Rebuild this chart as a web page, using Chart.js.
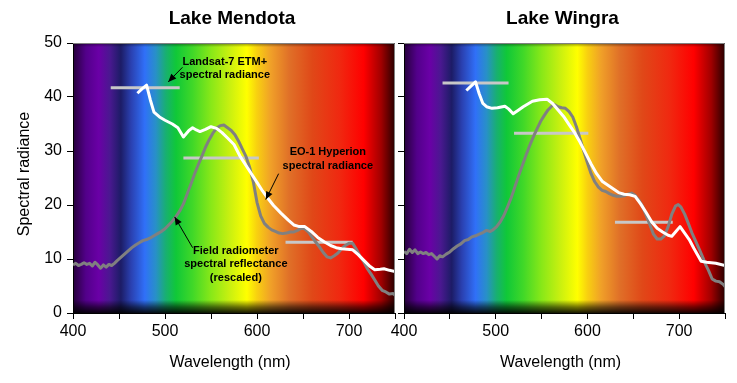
<!DOCTYPE html>
<html><head><meta charset="utf-8">
<script src="https://cdn.jsdelivr.net/npm/chart.js@4"></script>
<style>
html,body{margin:0;padding:0;background:#fff;}
#wrap{position:relative;width:737px;height:383px;overflow:hidden;}
canvas{position:absolute;top:0;}
#c1{left:0;} #c2{left:380px;}
</style></head><body>
<div id="wrap"><canvas id="c2" width="357" height="383"></canvas><canvas id="c1" width="400" height="383"></canvas></div>
<script>
// ---------- DATA ----------
const lakeNames = ['Lake Mendota', 'Lake Wingra'];
const wavelengthTicks = [400, 450, 500, 550, 600, 650, 700, 750];
const wavelengthLabels = ['400', '', '500', '', '600', '', '700', ''];
const radianceTicks = [0, 10, 20, 30, 40, 50];

// Lake Mendota - field radiometer spectral reflectance (rescaled)
const mendotaFieldNm  = [400,403,406,409,412,415,418,421,424,427,430,433,436,439,442,445,448,452,456,460,464,468,472,476,480,484,488,492,496,500,504,508,512,516,520,524,528,532,536,540,544,548,552,556,560,564,568,572,576,580,584,588,592,596,600,604,608,612,616,620,624,628,632,636,640,644,648,652,656,660,664,668,672,676,680,684,688,692,696,700,704,708,712,716,720,724,728,732,736,740,744,748,750];
const mendotaFieldVal = [8.9,9.2,8.8,9.0,9.3,9.0,9.2,8.7,9.4,8.9,8.3,8.9,8.5,9.0,8.8,9.2,9.7,10.3,10.9,11.5,12.1,12.6,13.0,13.4,13.6,13.9,14.3,14.7,15.1,15.6,16.3,17.0,17.9,18.9,20.2,22.0,23.8,25.7,27.4,29.0,30.7,32.1,33.3,34.2,34.7,34.8,34.3,33.8,33.0,31.8,30.4,29.0,27.0,24.3,20.5,18.0,16.6,15.9,15.4,15.1,14.8,14.7,14.8,15.0,15.0,15.3,15.7,15.6,15.0,14.0,13.1,12.2,11.2,10.4,10.2,10.6,11.1,11.9,12.5,12.9,12.9,11.8,10.5,9.5,8.2,7.2,6.1,5.0,4.2,3.9,3.5,3.6,3.3];
// Lake Mendota - EO-1 Hyperion spectral radiance
const mendotaHyperionNm  = [470,475,480,484,488,494,500,508,514,520,526,530,534,538,544,550,556,562,568,575,582,590,600,606,612,618,626,634,640,646,652,659,666,673,680,686,692,698,704,710,717,723,728,734,738,744,750];
const mendotaHyperionVal = [40.7,41.5,42.2,39.5,37.2,36.3,35.7,35.0,34.3,32.6,33.8,34.3,33.9,33.6,34.0,34.5,34.2,33.4,32.4,31.2,28.9,26.8,24.2,22.6,21.2,19.9,18.5,17.2,16.3,16.0,16.0,15.1,14.0,13.2,12.5,12.1,11.9,11.8,11.7,10.8,9.6,8.6,8.0,8.1,8.2,7.9,7.7];
// Lake Mendota - Landsat-7 ETM+ band radiance (band start nm, end nm, value)
const mendotaLandsatStart = [441, 520, 631];
const mendotaLandsatEnd   = [516, 602, 704];
const mendotaLandsatVal   = [41.7, 28.7, 13.1];

// Lake Wingra - field radiometer spectral reflectance (rescaled)
const wingraFieldNm  = [400,403,406,409,412,415,418,421,424,427,430,433,436,439,442,446,450,454,458,462,466,470,474,478,482,486,490,494,497,501,505,509,513,517,521,525,529,533,537,541,545,549,553,557,561,564,568,572,576,580,584,588,592,596,600,604,608,612,616,620,624,628,632,636,640,644,648,652,656,660,664,668,672,676,680,684,688,692,696,699,702,706,710,714,718,722,726,729,732,736,740,744,748,750];
const wingraFieldVal = [11.4,11.0,11.8,11.2,11.7,11.0,11.3,11.0,11.2,10.8,11.0,10.5,10.0,10.6,10.4,10.9,11.3,11.9,12.4,12.8,13.4,13.6,14.1,14.3,14.6,14.9,15.3,15.1,15.4,16.0,16.9,18.1,19.7,21.4,23.4,25.4,27.3,29.2,31.0,32.6,34.1,35.5,36.6,37.6,38.3,38.6,38.2,38.0,37.9,37.3,36.3,34.5,32.3,30.0,27.8,25.8,24.3,23.3,22.7,22.5,22.1,21.8,21.6,21.6,21.7,22.0,22.2,21.8,20.9,19.8,18.1,16.4,14.6,13.7,13.7,14.3,16.0,18.3,19.8,20.1,19.6,18.3,16.6,14.8,13.3,11.8,10.2,8.9,7.9,6.3,5.9,5.8,5.3,4.9];
// Lake Wingra - EO-1 Hyperion spectral radiance
const wingraHyperionNm  = [468,473,478,482,486,490,496,502,510,514,519,525,530,540,548,556,562,568,574,580,586,592,598,604,610,616,622,628,634,640,646,652,658,664,670,676,682,688,692,696,701,706,711,716,720,724,730,740,750];
const wingraHyperionVal = [41.2,42.0,42.8,40.6,38.8,38.2,37.9,38.0,38.3,37.8,36.9,37.6,38.2,39.2,39.5,39.6,38.8,37.6,36.4,34.9,33.4,31.6,29.6,27.6,25.8,24.4,23.7,23.0,22.3,22.0,21.9,21.6,20.2,18.6,16.9,15.7,15.0,14.4,14.2,15.0,16.0,14.8,13.6,12.0,10.8,9.6,9.4,9.2,8.8];
// Lake Wingra - Landsat-7 ETM+ band radiance
const wingraLandsatStart = [442, 520, 630];
const wingraLandsatEnd   = [514, 601, 693];
const wingraLandsatVal   = [42.6, 33.3, 16.8];

// ---------- STYLE ----------
const FONT = "'Liberation Sans', Arial, Helvetica, sans-serif";
const spectrumStops = [
  [400,'#26003a'],[414,'#52008a'],[428,'#6a00a6'],[440,'#4a1890'],[452,'#1c1c66'],
  [463,'#2a40b0'],[478,'#3070f8'],[490,'#2890c8'],[501,'#18b070'],[512,'#10c838'],
  [530,'#40d828'],[550,'#88e818'],[570,'#c8f010'],[589,'#ffff00'],[600,'#f8d010'],
  [615,'#f0a028'],[635,'#e07028'],[660,'#e04818'],[690,'#f02810'],[716,'#ff0000'],
  [735,'#a00000'],[750,'#280000']
];

function pts(nm, val){ return nm.map((x,i)=>({x:x, y:val[i]})); }

const annotationsMendota = [
  {lines:['Landsat-7 ETM+','spectral radiance'], nm:565, val:46.5, from:[519,45.5], to:[503.5,42.8]},
  {lines:['EO-1 Hyperion','spectral radiance'], nm:677, val:29.8, from:[623.5,25.8], to:[609.5,21.0]},
  {lines:['Field radiometer','spectral reflectance','(rescaled)'], nm:577, val:11.5, from:[530,12.1], to:[510.5,17.8]}
];

const spectrumPlugin = {
  id:'spectrum',
  beforeDraw(chart){
    const {ctx, chartArea:a, scales:{x}} = chart;
    const w = a.right - a.left, h = a.bottom - a.top;
    ctx.save();
    const g = ctx.createLinearGradient(a.left,0,a.right,0);
    spectrumStops.forEach(([nm,c])=>{
      g.addColorStop(Math.min(1,Math.max(0,(x.getPixelForValue(nm)-a.left)/w)), c);
    });
    ctx.fillStyle = g;
    ctx.fillRect(a.left, a.top, w, h);
    const v = ctx.createLinearGradient(0,a.top,0,a.bottom);
    v.addColorStop(0,'rgba(0,0,0,0.45)');
    v.addColorStop(4/h,'rgba(0,0,0,0)');
    v.addColorStop(1-13/h,'rgba(0,0,0,0)');
    v.addColorStop(1-6/h,'rgba(0,0,0,0.55)');
    v.addColorStop(1,'rgba(0,0,0,0.9)');
    ctx.fillStyle = v;
    ctx.fillRect(a.left, a.top, w, h);
    ctx.restore();
  },
  afterDraw(chart){
    const {ctx, chartArea:a} = chart;
    ctx.save();
    ctx.strokeStyle = '#808080'; ctx.lineWidth = 1;
    ctx.beginPath();
    ctx.moveTo(a.left, a.top+0.5); ctx.lineTo(a.right-0.5, a.top+0.5); ctx.lineTo(a.right-0.5, a.bottom);
    ctx.stroke();
    ctx.restore();
  }
};

const textPlugin = {
  id:'texts',
  afterDraw(chart, args, opts){
    const {ctx, chartArea:a, scales:{x, y}} = chart;
    const cx = (a.left + a.right)/2;
    ctx.save();
    ctx.fillStyle = '#000';
    ctx.textAlign = 'center'; ctx.textBaseline = 'middle';
    ctx.font = 'bold 19px ' + FONT;
    ctx.fillText(opts.title, cx - 2, 19);
    ctx.font = '16px ' + FONT;
    ctx.fillText('Wavelength (nm)', cx - 4, 363);
    if (opts.yTitle) {
      ctx.save();
      ctx.translate(25, (a.top + a.bottom)/2 - 4);
      ctx.rotate(-Math.PI/2);
      ctx.fillText(opts.yTitle, 0, 0);
      ctx.restore();
    }
    (opts.notes || []).forEach(n=>{
      ctx.font = 'bold 11px ' + FONT;
      const px = x.getPixelForValue(n.nm), py = y.getPixelForValue(n.val);
      n.lines.forEach((t,i)=> ctx.fillText(t, px, py + i*13.5));
      const x1 = x.getPixelForValue(n.from[0]), y1 = y.getPixelForValue(n.from[1]);
      const x2 = x.getPixelForValue(n.to[0]), y2 = y.getPixelForValue(n.to[1]);
      ctx.strokeStyle = '#000'; ctx.lineWidth = 1;
      ctx.beginPath(); ctx.moveTo(x1,y1); ctx.lineTo(x2,y2); ctx.stroke();
      const ang = Math.atan2(y2-y1, x2-x1), L = 8, W = 3.5;
      ctx.beginPath();
      ctx.moveTo(x2,y2);
      ctx.lineTo(x2 - L*Math.cos(ang) + W*Math.sin(ang), y2 - L*Math.sin(ang) - W*Math.cos(ang));
      ctx.lineTo(x2 - L*Math.cos(ang) - W*Math.sin(ang), y2 - L*Math.sin(ang) + W*Math.cos(ang));
      ctx.closePath(); ctx.fill();
    });
    ctx.restore();
  }
};

function makeChart(id, title, fieldNm, fieldVal, hypNm, hypVal, lsS, lsE, lsV, cfg){
  const datasets = [
    {data: pts(hypNm, hypVal), borderColor:'#ffffff', borderWidth:3, pointRadius:0, borderJoinStyle:'round', tension:0},
    {data: pts(fieldNm, fieldVal), borderColor:'#808080', borderWidth:3, pointRadius:0, borderJoinStyle:'round', tension:0}
  ];
  lsS.forEach((s,i)=>{
    datasets.push({data:[{x:s,y:lsV[i]},{x:lsE[i],y:lsV[i]}], borderColor:'#c8c8c8', borderWidth:3, pointRadius:0});
  });
  return new Chart(document.getElementById(id), {
    type:'line',
    data:{datasets},
    options:{
      responsive:false, animation:false, devicePixelRatio:1,
      layout:{padding:{left:0, right:cfg.padRight, top:43, bottom:0}},
      plugins:{legend:{display:false}, tooltip:{enabled:false},
        texts:{title:title, yTitle:cfg.yTitle, notes:cfg.notes}},
      scales:{
        x:{type:'linear', min:400, max:750,
          afterBuildTicks: s => { s.ticks = wavelengthTicks.map(v=>({value:v})); },
          ticks:{autoSkip:false, maxRotation:0, padding:3, color:'#000', font:{family:FONT, size:16},
            callback:(v)=> wavelengthLabels[wavelengthTicks.indexOf(v)] ?? ''},
          grid:{drawOnChartArea:false, tickLength:6, tickColor:'#000', color:'#000'},
          border:{color:'#000', width:1},
          afterFit: s => { s.height = 70; }
        },
        y:{type:'linear', min:0, max:50,
          afterBuildTicks: s => { s.ticks = radianceTicks.map(v=>({value:v})); },
          ticks:{display:cfg.showY, padding:5, color:'#000', font:{family:FONT, size:16}},
          grid:{drawOnChartArea:false, tickLength:6, tickColor:'#000', color:'#000'},
          border:{color:'#000', width:1},
          afterFit: s => { s.width = cfg.yWidth; }
        }
      }
    },
    plugins:[spectrumPlugin, textPlugin]
  });
}

makeChart('c1', lakeNames[0], mendotaFieldNm, mendotaFieldVal, mendotaHyperionNm, mendotaHyperionVal,
  mendotaLandsatStart, mendotaLandsatEnd, mendotaLandsatVal,
  {padRight:5, yWidth:73, showY:true, yTitle:'Spectral radiance', notes:annotationsMendota});
makeChart('c2', lakeNames[1], wingraFieldNm, wingraFieldVal, wingraHyperionNm, wingraHyperionVal,
  wingraLandsatStart, wingraLandsatEnd, wingraLandsatVal,
  {padRight:12, yWidth:24, showY:false, yTitle:null, notes:[]});
</script>
</body></html>
